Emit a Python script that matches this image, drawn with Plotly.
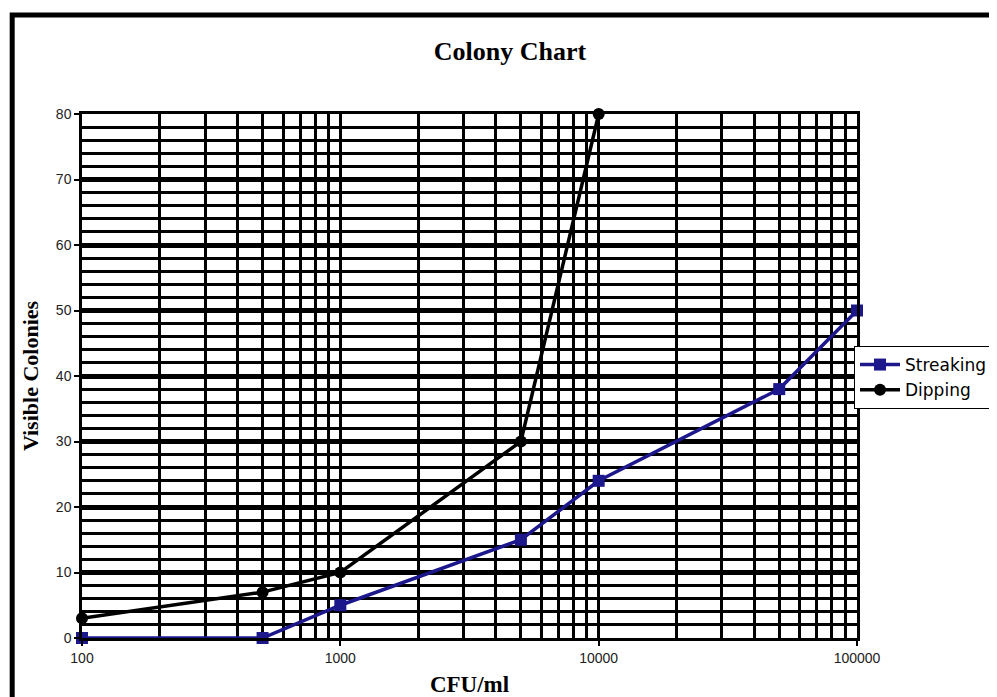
import plotly.graph_objects as go

cfu = [100, 500, 1000, 5000, 10000, 50000, 100000]
streaking = [0, 0, 5, 15, 24, 38, 50]
cfu_dip = [100, 500, 1000, 5000, 10000]
dipping = [3, 7, 10, 30, 80]
x_ticks = [100, 1000, 10000, 100000]
y_ticks = [0, 10, 20, 30, 40, 50, 60, 70, 80]

W, H = 997, 697
OX, OY = 8, 7  # page offset of the figure in the screenshot
L, R, T, B = 82 - OX, 859 - OX, 113 - OY, 637 - OY

fig = go.Figure()
fig.add_trace(go.Scatter(
    x=cfu, y=streaking, name="Streaking", mode="lines+markers",
    line=dict(color="#1d178c", width=3.5),
    marker=dict(symbol="square", size=12, color="#1d178c"),
    cliponaxis=False))
fig.add_trace(go.Scatter(
    x=cfu_dip, y=dipping, name="Dipping", mode="lines+markers",
    line=dict(color="black", width=3.5),
    marker=dict(symbol="circle", size=12, color="black"),
    cliponaxis=False))

def px_x(p):
    return (p - OX - L) / (R - L)

def px_y(p):
    return (B - (p - OY)) / (B - T)

fig.update_layout(
    width=W, height=H,
    margin=dict(l=L, r=W - R, t=T, b=H - B),
    paper_bgcolor="white", plot_bgcolor="white",
    title=dict(text="<b>Colony Chart</b>", x=(510 - OX) / W, xanchor="center",
               y=1 - (50 - OY) / H, yanchor="middle",
               font=dict(family="Liberation Serif", size=26, color="black")),
    xaxis=dict(type="log", range=[2, 5], tickvals=x_ticks,
               ticktext=[str(v) for v in x_ticks],
               showgrid=True, gridcolor="black", gridwidth=2.5,
               minor=dict(dtick="D1", showgrid=True, gridcolor="black",
                          gridwidth=2.5, ticks=""),
               ticks="outside", ticklen=5, tickcolor="black", tickwidth=1.5,
               showline=True, linecolor="black", linewidth=2.5, mirror=True,
               zeroline=False,
               tickfont=dict(family="Liberation Sans", size=14, color="#222"),
               title=dict(text="<b>CFU/ml</b>", standoff=12,
                          font=dict(family="Liberation Serif", size=23, color="black"))),
    yaxis=dict(range=[0, 80], tickvals=y_ticks,
               showgrid=True, gridcolor="black", gridwidth=5,
               minor=dict(dtick=2, showgrid=True, gridcolor="black",
                          gridwidth=3, ticks=""),
               ticks="outside", ticklen=5, tickcolor="black", tickwidth=1.5,
               showline=True, linecolor="black", linewidth=2.5, mirror=True,
               zeroline=False,
               tickfont=dict(family="Liberation Sans", size=14, color="#222"),
               title=dict(text="<b>Visible Colonies</b>", standoff=12,
                          font=dict(family="Liberation Serif", size=22, color="black"))),
    legend=dict(x=px_x(856), y=px_y(345), xanchor="left", yanchor="top",
                bgcolor="white", bordercolor="black", borderwidth=1,
                font=dict(family="DejaVu Sans", size=17, color="black"),
                itemwidth=40, tracegroupgap=0),
    shapes=[dict(type="rect", xref="paper", yref="paper",
                 x0=px_x(12), x1=px_x(1060), y0=px_y(760), y1=px_y(14),
                 line=dict(color="black", width=5), layer="above")],
)

fig.write_html("out.html")
